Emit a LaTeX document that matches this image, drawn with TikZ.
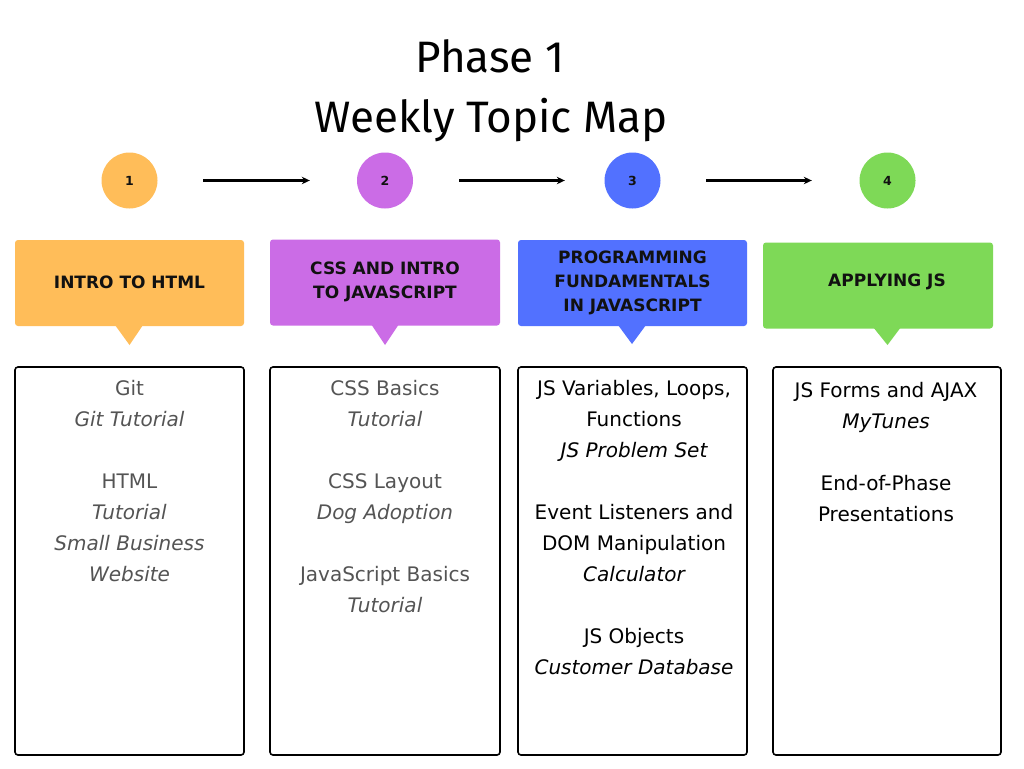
\documentclass[tikz,border=0pt]{standalone}
\usepackage{fontspec}
\setmainfont{DejaVu Sans}
\newfontfamily\titlefont{Fira Sans}
\usetikzlibrary{calc,arrows.meta}

\definecolor{weekA}{HTML}{FFBD59}
\definecolor{weekB}{HTML}{CB6CE6}
\definecolor{weekC}{HTML}{5271FF}
\definecolor{weekD}{HTML}{7ED957}
\definecolor{softgrey}{HTML}{545454}
\definecolor{ink}{HTML}{111111}

\begin{document}
\begin{tikzpicture}[x=1pt,y=-1pt,
  weekdot/.style={circle, fill=#1, minimum size=56pt, inner sep=0pt,
    font=\bfseries\fontsize{12.5}{14}\selectfont, text=ink},
  flow/.style={-{Stealth[length=8pt,width=7.5pt]}, line width=2.2pt},
  headbox/.style={fill=#1, rounded corners=3pt, minimum height=86pt, inner sep=0pt},
  headtext/.style={align=center, inner sep=0pt, text=ink,
    font=\bfseries\fontsize{17}{24}\selectfont},
  topicbox/.style={draw=black, line width=1.6pt, rounded corners=3pt,
    minimum height=388pt, inner sep=0pt},
  topics/.style={align=center, anchor=north, inner sep=0pt, text=#1,
    font=\fontsize{20}{31}\selectfont},
]
% page
\fill[white] (0,0) rectangle (1024,768);
\useasboundingbox (0,0) rectangle (1024,768);

% title
\node[anchor=base, inner sep=0pt, font=\titlefont\fontsize{44}{50}\selectfont] (title1) at (490,72) {Phase 1};
\node[anchor=base, inner sep=0pt, font=\titlefont\fontsize{44}{50}\selectfont] (title2) at (491,132) {Weekly Topic Map};

% week markers
\node[weekdot=weekA] (c1) at (129.5,180.5) {1};
\node[weekdot=weekB] (c2) at (385,180.5) {2};
\node[weekdot=weekC] (c3) at (632.5,180.5) {3};
\node[weekdot=weekD] (c4) at (887.5,180.5) {4};

\draw[flow, shorten <=45.5pt, shorten >=47pt] (c1) -- (c2);
\draw[flow, shorten <=46pt, shorten >=39.5pt] (c2) -- (c3);
\draw[flow, shorten <=45.5pt, shorten >=47.5pt] (c3) -- (c4);

% week headers with their pointers
\node[headbox=weekA, minimum width=229pt] (h1) at (129.5,283) {};
\node[headbox=weekB, minimum width=230pt] (h2) at (385,282.5) {};
\node[headbox=weekC, minimum width=229pt] (h3) at (632.5,283) {};
\node[headbox=weekD, minimum width=230pt] (h4) at (878,285.5) {};

\fill[weekA] (115,325) -- (143,325) -- (129.5,345) -- cycle;
\fill[weekB] (371,324) -- (399,324) -- (385,345) -- cycle;
\fill[weekC] (618,325) -- (646,325) -- (632,344) -- cycle;
\fill[weekD] (873,327) -- (901,327) -- (887.5,345) -- cycle;

\node[headtext] (t1) at (129.5,282) {INTRO TO HTML};
\node[headtext] (t2) at (385,282) {CSS AND INTRO\\TO JAVASCRIPT};
\node[headtext] (t3) at (632.5,283) {PROGRAMMING\\FUNDAMENTALS\\IN JAVASCRIPT};
\node[headtext] (t4) at (887,282) {APPLYING JS};

% topic lists
\node[topicbox, minimum width=229pt] (b1) at (129.5,561) {};
\node[topicbox, minimum width=230pt] (b2) at (385,561) {};
\node[topicbox, minimum width=229pt] (b3) at (632.5,561) {};
\node[topicbox, minimum width=228pt] (b4) at (887,561) {};

\node[topics=softgrey] (l1) at (129.5,373.3) {\strut Git\\ \itshape Git Tutorial\\ ~\\
  HTML\\ \itshape Tutorial\\ \itshape Small Business\\ \itshape Website};
\node[topics=softgrey] (l2) at (385,373.3) {\strut CSS Basics\\ \itshape Tutorial\\ ~\\
  CSS Layout\\ \itshape Dog Adoption\\ ~\\
  JavaScript Basics\\ \itshape Tutorial};
\node[topics=black] (l3) at (634,373.3) {\strut JS Variables, Loops,\\ Functions\\ \itshape JS Problem Set\\ ~\\
  Event Listeners and\\ DOM Manipulation\\ \itshape Calculator\\ ~\\
  JS Objects\\ \itshape Customer Database};
\node[topics=black] (l4) at (886,375.3) {\strut JS Forms and AJAX\\ \itshape MyTunes\\ ~\\
  End-of-Phase\\ Presentations};
\end{tikzpicture}
\end{document}
